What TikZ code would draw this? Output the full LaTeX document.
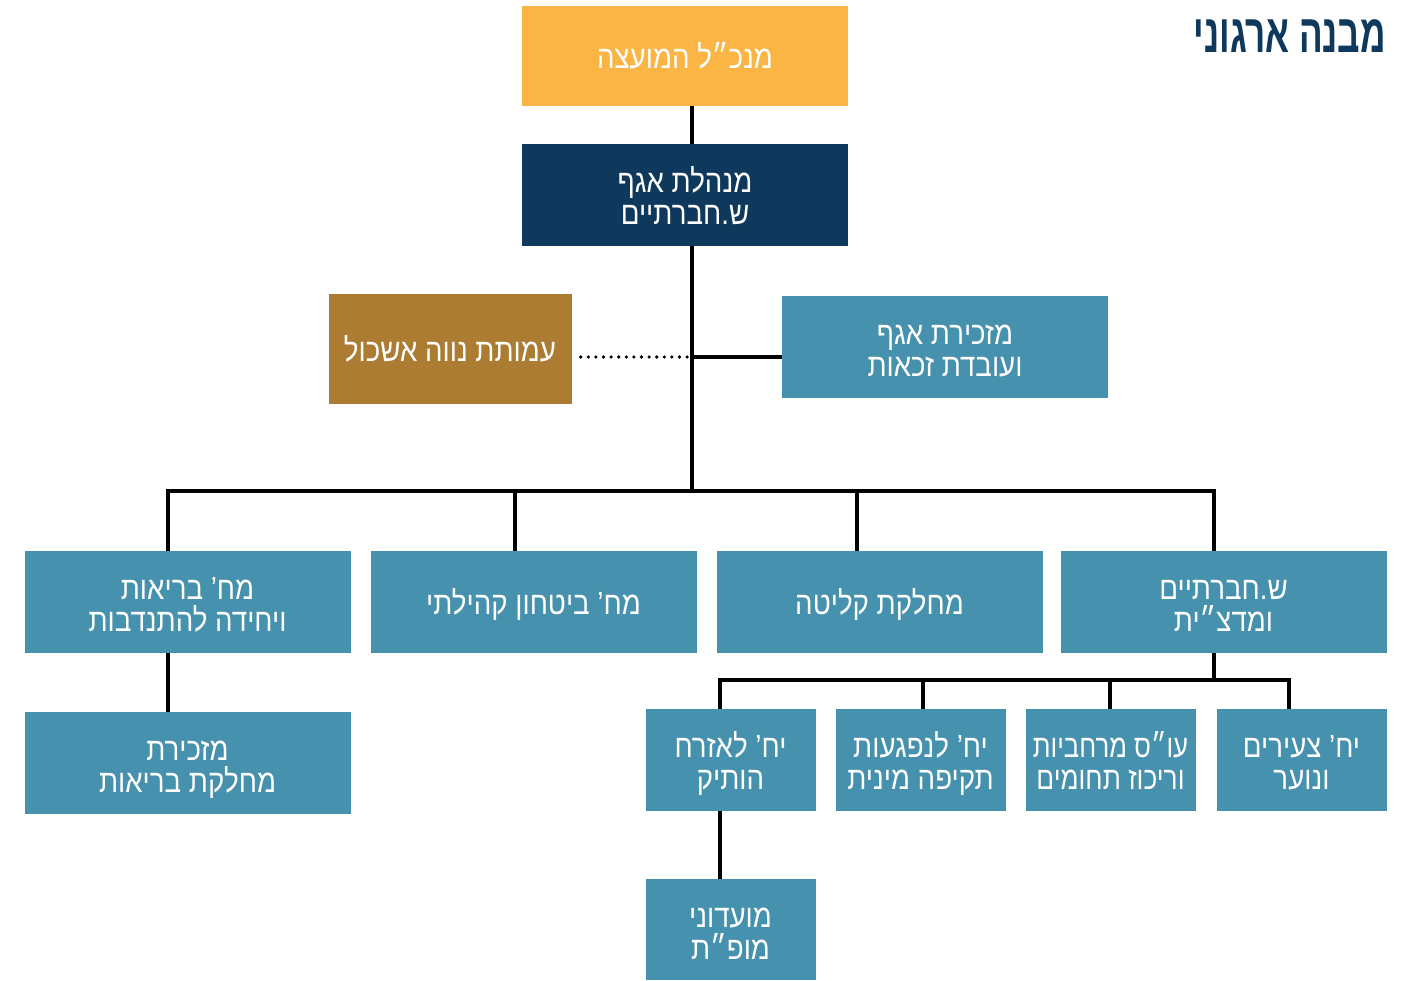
\documentclass[tikz,border=0pt]{standalone}
\usepackage{fontspec}
\usepackage{graphicx}
\TeXXeTstate=1
\newfontfamily\hefont[Script=Hebrew,FakeStretch=0.865]{Liberation Sans}
\newfontfamily\titlefont[Script=Hebrew,FakeStretch=0.65]{Liberation Sans Bold}
\definecolor{orangeC}{RGB}{251,181,69}
\definecolor{navyC}{RGB}{14,57,92}
\definecolor{brownC}{RGB}{171,124,50}
\definecolor{tealC}{RGB}{70,145,173}
\newcommand{\RL}[1]{\beginR #1\endR}
\newcommand{\one}[1]{\rule[-8pt]{0pt}{40pt}\RL{#1}}
\newcommand{\two}[2]{\rule{0pt}{35pt}\RL{#1}\\\RL{#2}\rule[-8pt]{0pt}{8pt}}
\tikzset{
  box/.style={rectangle, inner sep=0pt, text=white, align=center,
    font=\hefont\fontsize{32}{32}\selectfont},
  wide/.style={box, minimum width=326pt, minimum height=102pt},
  narrow/.style={box, minimum width=170pt, minimum height=102pt},
  conn/.style={line width=3.6pt, black},
  dotconn/.style={line width=3.6pt, black, dash pattern=on 0pt off 7.6pt, line cap=round},
}
\begin{document}
\begin{tikzpicture}[x=1pt,y=-1pt]
\useasboundingbox[fill=white] (0,0) rectangle (1404,980);
% title
\node[anchor=east, text=navyC, inner sep=0pt, font=\titlefont\fontsize{54}{54}\selectfont] (title) at (1386,36) {\RL{מבנה ארגוני}};
% top boxes
\node[wide, fill=orangeC, minimum height=100pt] (ceo) at (685,56) {\one{מנכ״ל המועצה}};
\node[wide, fill=navyC] (mgr) at (685,195) {\two{מנהלת אגף}{ש.חברתיים}};
\node[box, fill=brownC, minimum width=243pt, minimum height=110pt] (amuta) at (450,349) {\one{עמותת נווה אשכול}};
\node[wide, fill=tealC] (sec) at (945,347) {\two{מזכירת אגף}{ועובדת זכאות}};
% row 1
\node[wide, fill=tealC] (health) at (187.5,602) {\two{מח’ בריאות}{ויחידה להתנדבות}};
\node[wide, fill=tealC] (security) at (533.5,602) {\one{מח’ ביטחון קהילתי}};
\node[wide, fill=tealC] (klita) at (879.5,602) {\one{מחלקת קליטה}};
\node[wide, fill=tealC] (social) at (1223.5,602) {\two{ש.חברתיים}{ומדצ״ית}};
\node[wide, fill=tealC] (hsec) at (187.5,763) {\two{מזכירת}{מחלקת בריאות}};
% row 2
\node[narrow, fill=tealC] (elder) at (730.5,760) {\two{יח’ לאזרח}{הותיק}};
\node[narrow, fill=tealC] (victims) at (920.5,760) {\two{יח’ לנפגעות}{תקיפה מינית}};
\node[narrow, fill=tealC] (sw) at (1110.5,760) {\rule{0pt}{35pt}\scalebox{0.93}[1]{\RL{עו״ס מרחביות}}\\\scalebox{0.95}[1]{\RL{וריכוז תחומים}}\rule[-8pt]{0pt}{8pt}};
\node[narrow, fill=tealC] (youth) at (1301.5,760) {\two{יח’ צעירים}{ונוער}};
\node[narrow, fill=tealC, minimum height=101pt] (mofet) at (730.5,929.5) {\two{מועדוני}{מופ״ת}};
% coordinates
\coordinate (spine) at (692,0);
\coordinate (junc) at (692,357);
\coordinate (bus) at (692,491);
\coordinate (d1) at (168,491);
\coordinate (d2) at (515,491);
\coordinate (d3) at (857,491);
\coordinate (d4) at (1214,491);
\coordinate (bus2) at (1214,680);
\coordinate (e1) at (720,680);
\coordinate (e2) at (923,680);
\coordinate (e3) at (1110,680);
\coordinate (e4) at (1289,680);
% connectors
\draw[conn] (spine |- ceo.south) -- (spine |- mgr.north);
\draw[conn] (spine |- mgr.south) -- (bus);
\draw[conn] (junc) -- (sec.west |- junc);
\draw[dotconn] ([xshift=9pt]amuta.east |- junc) -- (junc);
\draw[conn, line cap=rect] (d1) -- (d4);
\draw[conn] (d1) -- (d1 |- health.north);
\draw[conn] (d2) -- (d2 |- security.north);
\draw[conn] (d3) -- (d3 |- klita.north);
\draw[conn] (d4) -- (d4 |- social.north);
\draw[conn] (d1 |- health.south) -- (d1 |- hsec.north);
\draw[conn] (bus2 |- social.south) -- (bus2);
\draw[conn, line cap=rect] (e1) -- (e4);
\draw[conn] (e1) -- (e1 |- elder.north);
\draw[conn] (e2) -- (e2 |- victims.north);
\draw[conn] (e3) -- (e3 |- sw.north);
\draw[conn] (e4) -- (e4 |- youth.north);
\draw[conn] (e1 |- elder.south) -- (e1 |- mofet.north);
\end{tikzpicture}
\end{document}
